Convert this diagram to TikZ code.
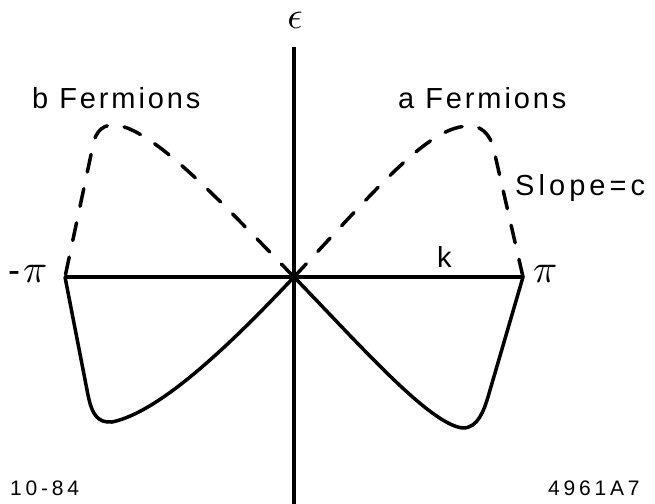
\documentclass[tikz,border=0pt]{standalone}
\usepackage{graphicx}
\usepackage{fontspec}
\newfontfamily\lab[LetterSpace=10]{Liberation Sans}
\newfontfamily\labw[LetterSpace=14]{Liberation Sans}
\newfontfamily\numf[LetterSpace=18]{Liberation Sans}
\newcommand{\bigsym}[2]{\scalebox{#1}{\fontsize{10}{12}\selectfont$#2$}}
\begin{document}
\begin{tikzpicture}[x=1pt,y=-1pt,
  ax/.style={line width=3.5pt},
  curve/.style={line width=3.5pt,line cap=round,line join=round},
  dcurve/.style={curve,dash pattern=on 18pt off 17pt},
  lbl/.style={inner sep=0pt,anchor=base west,font=\fontsize{29}{29}\selectfont\lab},
  num/.style={inner sep=0pt,anchor=base west,font=\fontsize{21}{21}\selectfont\numf},
  sym/.style={inner sep=0pt}]
\useasboundingbox (0,0) rectangle (655,503);
\coordinate (O) at (294,277);
\coordinate (L) at (65,277);
\coordinate (R) at (523,277);
\coordinate (T) at (294,47);
\coordinate (B) at (294,505);
% axes
\draw[ax] (L) -- (R);
\draw[ax] (T) -- (B);
% a fermions (dashed, right)
\draw[dcurve] (O) .. controls (380,185) and (430,125) .. (470,126)
  .. controls (485,126) and (493,140) .. (495,155) -- (R);
% b fermions (dashed, left)
\draw[dcurve] (O) .. controls (222,203) and (150,125) .. (113,125)
  .. controls (100,125) and (94,135) .. (92,150) -- (L);
% lower left solid
\draw[curve] (L) -- (88,395) .. controls (92,415) and (98,423) .. (112,422)
  .. controls (160,412) and (230,345) .. (O);
% lower right solid
\draw[curve] (O) .. controls (360,345) and (430,425) .. (463,428)
  .. controls (478,428) and (484,410) .. (488,397) -- (R);
% labels
\node[sym,anchor=base] (eps) at (295,29) {\bigsym{3.8}{\epsilon}};
\node[lbl] (bf) at (32,108) {b Fermions};
\node[lbl] (af) at (398,108) {a Fermions};
\node[lbl,font=\fontsize{29}{29}\selectfont\labw] (sl) at (515,195) {Slope=c};
\node[lbl] (kk) at (437,267) {k};
\node[lbl,font=\fontsize{36}{36}\selectfont\lab] (mpi) at (8,282) {-\hspace{3pt}\bigsym{4}{\pi}};
\node[sym,anchor=base west] (ppi) at (533,282) {\bigsym{4}{\pi}};
\node[num] (d1) at (10,495) {10-84};
\node[num] (d2) at (548,495) {4961A7};
\end{tikzpicture}
\end{document}
